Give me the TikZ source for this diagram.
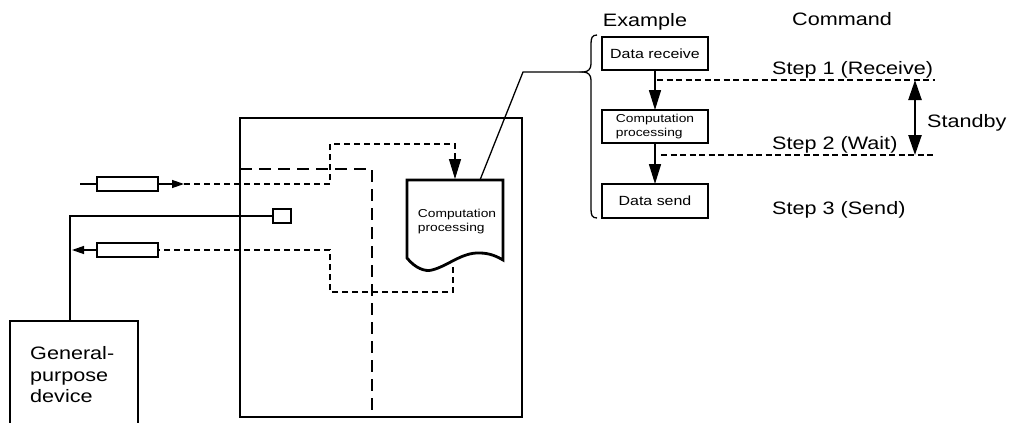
\documentclass[tikz,border=0pt]{standalone}
\usepackage{fontspec}
\setmainfont{Liberation Sans}[FakeStretch=1.2]
\usetikzlibrary{arrows.meta}
\begin{document}
\begin{tikzpicture}[x=1pt,y=-1pt,
  box/.style={draw, line width=2.8pt, inner sep=0pt, outer sep=0pt},
  lbl/.style={font=\fontsize{18}{21.5}\selectfont, inner sep=0pt},
  boxtxt/.style={font=\fontsize{13.3}{15}\selectfont},
  smalltxt/.style={font=\fontsize{11.5}{14}\selectfont, inner sep=0pt},
  thinl/.style={line width=1.3pt},
  shortdash/.style={line width=1.8pt, dash pattern=on 6pt off 4pt},
  longdash/.style={line width=1.8pt, dash pattern=on 12pt off 7pt},
  stepdash/.style={line width=2.8pt, dash pattern=on 6pt off 3.5pt},
  bigtip/.style={-{Triangle[length=20pt,width=12pt]}},
  smalltip/.style={-{Triangle[length=12pt,width=8pt]}}
]
\useasboundingbox (0,0) rectangle (1010,423);
\clip (0,0) rectangle (1010,423);

% main unit box
\node[box, minimum width=282pt, minimum height=299pt, anchor=north west] (unit) at (240,118) {};

% general-purpose device
\node[box, minimum width=128pt, minimum height=115pt, anchor=north west] (dev) at (10,321) {};
\node[lbl, align=left, anchor=west] (devtxt) at (30,375) {General-\\purpose\\device};

% input / output resistors and square
\node[box, line width=2.4pt, minimum width=61pt, minimum height=14pt] (inr) at (127.5,184) {};
\node[box, line width=2.4pt, minimum width=61pt, minimum height=14pt] (outr) at (127.5,250) {};
\node[box, line width=2.2pt, minimum width=18pt, minimum height=14pt] (sq) at (282,216) {};

% document shape
\draw[line width=2.8pt, line join=miter] (407,258) -- (407,180) -- (503,180) -- (503,260)
  .. controls (498,257) and (490,253) .. (480,253)
  .. controls (462,252) and (448,266) .. (432,270)
  .. controls (425,272) and (415,268) .. (407,258) -- cycle;
\node[smalltxt, align=left] (doc) at (457,222) {Computation\\processing};
\coordinate (docin) at (455,179);
\coordinate (docinA) at (455,158);
\coordinate (docout) at (453,267);
\coordinate (doctop) at (480,180);

% input line
\coordinate (inS) at (80,184);
\coordinate (inE) at (184,184);
\draw[thinl] (inS) -- (inr.west);
\draw[thinl, smalltip] (inr.east) -- (inE);
\draw[shortdash] (inE) -- (330,184) -- (330,144) -- (455,144) -- (docinA);
\draw[thinl, bigtip] (docinA) -- (docin);

% output line
\coordinate (outE) at (72,250);
\draw[shortdash] (docout) -- (453,292) -- (330,292) -- (330,250) -- (outr.east);
\draw[thinl, smalltip] (outr.west) -- (outE);

% long dashed line
\coordinate (ldS) at (240,169);
\coordinate (ldE) at (372,410);
\draw[longdash] (ldS) -- (372,169) -- (ldE);

% solid line from square to device
\coordinate (corner) at (70,216);
\draw[thinl] (sq.west) -- (corner) -- (corner |- dev.north);

% brace and leader
\coordinate (brtip) at (583,72);
\draw[thinl] (doctop) -- (523,72) -- (brtip);
\draw[thinl] (597,35) .. controls (592,35) and (591,38) .. (591,44) -- (591,64)
  .. controls (591,69) and (588,72) .. (brtip)
  .. controls (588,72) and (591,75) .. (591,80) -- (591,209)
  .. controls (591,215) and (592,218) .. (597,218);

% right-hand boxes
\node[box, minimum width=106pt, minimum height=33pt, boxtxt] (dr) at (655,53.5) {Data receive};
\node[box, minimum width=106pt, minimum height=33pt, smalltxt, align=left] (cp) at (655,126.5) {Computation\\processing};
\node[box, minimum width=106pt, minimum height=34pt, boxtxt] (ds) at (655,201) {Data send};
\draw[line width=1.6pt, bigtip] (dr.south) -- (cp.north);
\draw[line width=1.6pt, bigtip] (cp.south) -- (ds.north);

% step lines
\coordinate (s1a) at (657,80);
\coordinate (s1b) at (935,80);
\coordinate (s2a) at (661,155);
\coordinate (s2b) at (935,155);
\draw[stepdash] (s1a) -- (s1b);
\draw[stepdash] (s2a) -- (s2b);
\coordinate (sbT) at (915,80);
\coordinate (sbB) at (915,155);
\draw[line width=2.4pt, {Triangle[length=20pt,width=13pt]}-{Triangle[length=20pt,width=13pt]}] (sbT) -- (sbB);

% labels
\node[lbl, anchor=base] (ex) at (645,26) {Example};
\node[lbl, anchor=base] (cmd) at (842,25) {Command};
\node[lbl, anchor=base west] (st1) at (772,74) {Step 1 (Receive)};
\node[lbl, anchor=base west] (st2) at (772,149) {Step 2 (Wait)};
\node[lbl, anchor=base west] (st3) at (772,214) {Step 3 (Send)};
\node[lbl, anchor=base west] (sby) at (927,127) {Standby};
\end{tikzpicture}
\end{document}
